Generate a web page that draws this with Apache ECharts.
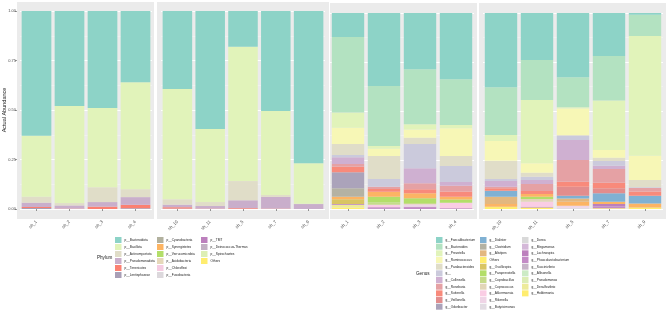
<!DOCTYPE html>
<html>
<head>
<meta charset="utf-8">
<title>Actual Abundance</title>
<script src="https://cdn.jsdelivr.net/npm/echarts@6.0.0/dist/echarts.min.js"></script>
<style>
  html, body { margin: 0; padding: 0; background: #ffffff; }
  #main { width: 669px; height: 313px; }
</style>
</head>
<body>
<div id="main"></div>
<script type="text/javascript">
// samples in the two facets (same samples in both plots)
var groupA = ['sh_1', 'sh_2', 'sh_3', 'sh_4'];
var groupB = ['sh_10', 'sh_11', 'sh_5', 'sh_7', 'sh_9'];
var yTicks = [0, 0.25, 0.5, 0.75, 1];

// ---- phylum level, 9 bars: groupA then groupB ----
var phylumNames = ['p__Bacteroidota', 'p__Bacillota', 'p__Actinomycetota', 'p__Pseudomonadota',
  'p__Tenericutes', 'p__Lentisphaerae', 'p__Cyanobacteria', 'p__Synergistetes', 'p__Verrucomicrobia',
  'p__Acidobacteria', 'p__Chloroflexi', 'p__Fusobacteria', 'p__TM7', 'p__Deinococcus-Thermus',
  'p__Spirochaetes', 'Others'];
var phylumColors = ['#8DD3C7', '#E1F3BA', '#E0DDC8', '#C9AECB', '#FB8072', '#A99FB6', '#B2B19E',
  '#FDB462', '#B3DE69', '#E6D8BA', '#F5CDE2', '#DCD8DC', '#BC80BD', '#C3B1C4', '#DDEFB4', '#FFED6F'];

var pBacteroidota   = [0.630, 0.480, 0.490, 0.360, 0.394, 0.596, 0.180, 0.505, 0.769];
var pBacillota      = [0.308, 0.490, 0.400, 0.540, 0.557, 0.369, 0.679, 0.424, 0.204];
var pActinomycetota = [0.030, 0.012, 0.075, 0.040, 0.027, 0.020, 0.097, 0.010, 0.002];
var pPseudomonadota = [0.022, 0.016, 0.023, 0.039, 0.013, 0.013, 0.040, 0.059, 0.025];
var pTenericutes    = [0.005, 0.002, 0.012, 0.017, 0.007, 0.002, 0.004, 0.002, 0];
var pLentisphaerae  = [0.005, 0, 0, 0.004, 0.002, 0, 0, 0, 0];
var pCyanobacteria  = [0, 0, 0, 0, 0, 0, 0, 0, 0];
var pSynergistetes  = [0, 0, 0, 0, 0, 0, 0, 0, 0];
var pVerrucomicrobia= [0, 0, 0, 0, 0, 0, 0, 0, 0];
var pAcidobacteria  = [0, 0, 0, 0, 0, 0, 0, 0, 0];
var pChloroflexi    = [0, 0, 0, 0, 0, 0, 0, 0, 0];
var pFusobacteria   = [0, 0, 0, 0, 0, 0, 0, 0, 0];
var pTM7            = [0, 0, 0, 0, 0, 0, 0, 0, 0];
var pDeinococcus    = [0, 0, 0, 0, 0, 0, 0, 0, 0];
var pSpirochaetes   = [0, 0, 0, 0, 0, 0, 0, 0, 0];
var pOthers         = [0, 0, 0, 0, 0, 0, 0, 0, 0];
var phylumValues = [pBacteroidota, pBacillota, pActinomycetota, pPseudomonadota, pTenericutes,
  pLentisphaerae, pCyanobacteria, pSynergistetes, pVerrucomicrobia, pAcidobacteria, pChloroflexi,
  pFusobacteria, pTM7, pDeinococcus, pSpirochaetes, pOthers];

// ---- genus level, 9 bars: groupA then groupB ----
var genusNames = ['g__Faecalibacterium', 'g__Bacteroides', 'g__Prevotella', 'g__Ruminococcus',
  'g__Parabacteroides', 'g__', 'g__Collinsella', 'g__Roseburia', 'g__Sutterella', 'g__Veillonella',
  'g__Odoribacter', 'g__Dialister', 'g__Clostridium', 'g__Alistipes', 'Others', 'g__Oscillospira',
  'g__Paraprevotella', 'g__Coprobacillus', 'g__Coprococcus', 'g__Akkermansia', 'g__Rikenella',
  'g__Butyricimonas', 'g__Dorea', 'g__Megamonas', 'g__Lachnospira', 'g__Phascolarctobacterium',
  'g__Succinivibrio', 'g__Allisonella', 'g__Pseudomonas', 'g__Desulfovibrio', 'g__Holdemania'];
var genusColors = ['#8DD3C7', '#B3E2C1', '#E1F3BA', '#F7F7B6', '#E0DDC8', '#CBCADC', '#CFB0D1',
  '#E5A1A4', '#F88A7B', '#E28D8D', '#ABA3BA', '#80B1D3', '#B4B2A3', '#E3B77F', '#FCB464', '#D9C563',
  '#B3DE69', '#C6DB8A', '#E2D6B8', '#FACDE4', '#EFD4E6', '#E2DCE3', '#D9D9D9', '#D4B8D8', '#BC80BD',
  '#C38AC6', '#C7B4C9', '#CCEBC5', '#DCEDB5', '#EDEB9A', '#FFED6F'];

var gFaecalibacterium = [0.123, 0.372, 0.287, 0.338, 0.379, 0.240, 0.328, 0.219, 0.009];
var gBacteroides      = [0.385, 0.307, 0.281, 0.233, 0.243, 0.204, 0.153, 0.228, 0.108];
var gPrevotella       = [0.077, 0.013, 0.026, 0.017, 0.031, 0.323, 0.006, 0.252, 0.611];
var gRuminococcus     = [0.083, 0.038, 0.042, 0.142, 0.101, 0.048, 0.135, 0.039, 0.124];
var gParabacteroides  = [0.056, 0.117, 0.032, 0.051, 0.093, 0.020, 0.004, 0.017, 0.037];
var gUnassigned       = [0.012, 0.039, 0.124, 0.081, 0.010, 0.017, 0.022, 0.024, 0.004];
var gCollinsella      = [0.034, 0, 0.077, 0.019, 0.029, 0.020, 0.102, 0.017, 0];
var gRoseburia        = [0.014, 0.012, 0.030, 0.030, 0.008, 0.036, 0.111, 0.070, 0.018];
var gSutterella       = [0.029, 0.014, 0.021, 0.026, 0.013, 0.015, 0.026, 0.028, 0.022];
var gVeillonella      = [0, 0, 0, 0, 0, 0, 0.046, 0.026, 0];
var gOdoribacter      = [0.081, 0, 0, 0, 0, 0, 0, 0, 0];
var gDialister        = [0, 0, 0, 0, 0.030, 0, 0.013, 0.043, 0.039];
var gClostridium      = [0.043, 0, 0, 0, 0, 0, 0, 0, 0];
var gAlistipes        = [0, 0, 0, 0, 0.037, 0, 0.017, 0, 0];
var gOthers           = [0.013, 0.025, 0.025, 0.014, 0.014, 0.014, 0.021, 0.011, 0.020];
var gOscillospira     = [0.024, 0, 0, 0, 0, 0, 0, 0, 0];
var gParaprevotella   = [0, 0.030, 0.025, 0.017, 0, 0.012, 0, 0, 0];
var gCoprobacillus    = [0, 0.011, 0.006, 0, 0, 0, 0, 0, 0];
var gCoprococcus      = [0, 0, 0, 0, 0, 0.014, 0, 0, 0];
var gAkkermansia      = [0, 0.013, 0.004, 0.028, 0, 0.025, 0, 0, 0];
var gRikenella        = [0, 0, 0.008, 0, 0, 0, 0.010, 0, 0];
var gButyricimonas    = [0, 0, 0, 0, 0, 0, 0.006, 0, 0];
var gDorea            = [0, 0, 0, 0, 0, 0, 0, 0, 0];
var gMegamonas        = [0, 0, 0, 0, 0, 0, 0, 0, 0];
var gLachnospira      = [0.004, 0.005, 0.006, 0.004, 0, 0.004, 0, 0.013, 0];
var gPhascolarcto     = [0, 0.004, 0.006, 0, 0, 0, 0, 0.009, 0];
var gSuccinivibrio    = [0, 0, 0, 0, 0, 0, 0, 0, 0];
var gAllisonella      = [0, 0, 0, 0, 0, 0, 0, 0, 0];
var gPseudomonas      = [0, 0, 0, 0, 0, 0, 0, 0, 0];
var gDesulfovibrio    = [0.014, 0, 0, 0, 0, 0, 0, 0, 0];
var gHoldemania       = [0.008, 0, 0, 0, 0.012, 0.008, 0, 0.004, 0.008];
var genusValues = [gFaecalibacterium, gBacteroides, gPrevotella, gRuminococcus, gParabacteroides,
  gUnassigned, gCollinsella, gRoseburia, gSutterella, gVeillonella, gOdoribacter, gDialister,
  gClostridium, gAlistipes, gOthers, gOscillospira, gParaprevotella, gCoprobacillus, gCoprococcus,
  gAkkermansia, gRikenella, gButyricimonas, gDorea, gMegamonas, gLachnospira, gPhascolarcto,
  gSuccinivibrio, gAllisonella, gPseudomonas, gDesulfovibrio, gHoldemania];

var FONT = 'Liberation Sans';
var myChart = echarts.init(document.getElementById('main'));

// one grid per facet panel
var grids = [
  { left: 20,  top: 11, width: 132, height: 198 },
  { left: 161, top: 11, width: 164, height: 198 },
  { left: 330, top: 13, width: 144, height: 196 },
  { left: 483, top: 13, width: 180, height: 196 }
];
grids.forEach(function (g) { g.outerBoundsMode = 'none'; });

var xAxes = [groupA, groupB, groupA, groupB].map(function (cats, i) {
  return {
    gridIndex: i, type: 'category', data: cats, offset: 10,
    axisLine: { show: false },
    axisTick: { show: true, alignWithLabel: true, length: 2, lineStyle: { color: '#333', width: 0.5 } },
    axisLabel: { rotate: 45, fontSize: 4.5, color: '#4D4D4D', margin: 2, fontFamily: FONT },
    splitLine: { show: false }
  };
});

var yAxes = [0, 1, 2, 3].map(function (i) {
  return {
    gridIndex: i, type: 'value', min: 0, max: 1, interval: 0.25,
    offset: i === 0 ? 3 : 0,
    name: i === 0 ? 'Actual Abundance' : '',
    nameLocation: 'middle', nameGap: 10, nameMoveOverlap: false,
    nameTextStyle: { fontSize: 5.5, color: '#1A1A1A', fontFamily: FONT },
    axisLine: { show: false },
    axisTick: { show: i === 0, length: 2, lineStyle: { color: '#333', width: 0.5 } },
    axisLabel: {
      show: i === 0, fontSize: 4, color: '#4D4D4D', margin: 1, fontFamily: FONT,
      formatter: function (v) { return yTicks.indexOf(v) >= 0 ? v.toFixed(2) : ''; }
    },
    splitLine: { show: true, lineStyle: { color: '#ffffff', width: 1 } },
    minorTick: { show: false, splitNumber: 2 },
    minorSplitLine: { show: true, lineStyle: { color: '#F6F6F6', width: 0.5 } }
  };
});

// ggplot stacks the first level on top, echarts stacks the first series at the bottom
var series = [];
function addStack(names, colors, values, gA, gB, key) {
  for (var i = names.length - 1; i >= 0; i--) {
    series.push({
      type: 'bar', name: names[i], xAxisIndex: gA, yAxisIndex: gA, stack: key + 'A',
      barWidth: '90%', itemStyle: { color: colors[i] }, data: values[i].slice(0, groupA.length)
    });
    series.push({
      type: 'bar', name: names[i], xAxisIndex: gB, yAxisIndex: gB, stack: key + 'B',
      barWidth: '90%', itemStyle: { color: colors[i] }, data: values[i].slice(groupA.length)
    });
  }
}
addStack(phylumNames, phylumColors, phylumValues, 0, 1, 'phylum');
addStack(genusNames, genusColors, genusValues, 2, 3, 'genus');

function legendCol(names, left, gap) {
  return {
    orient: 'vertical', left: left, top: 237, padding: 0,
    itemWidth: 6.5, itemHeight: 6, itemGap: gap, icon: 'rect',
    selectedMode: false,
    textStyle: { fontSize: 3.2, color: '#1A1A1A', fontFamily: FONT, padding: [0, 0, 0, -2] },
    data: names
  };
}
var legends = [
  legendCol(phylumNames.slice(0, 6), 115, 1),
  legendCol(phylumNames.slice(6, 12), 157, 1),
  legendCol(phylumNames.slice(12), 201, 1),
  legendCol(genusNames.slice(0, 11), 436, 0.67),
  legendCol(genusNames.slice(11, 22), 480, 0.67),
  legendCol(genusNames.slice(22), 522, 0.67)
];

// grey facet panels behind the grids
var panels = [[17, 2, 137, 217], [157, 2, 172, 217], [330, 3, 147, 216], [479, 3, 187, 216]];
var graphics = panels.map(function (p) {
  return { type: 'rect', z: -10, silent: true, shape: { x: p[0], y: p[1], width: p[2], height: p[3] },
           style: { fill: '#EBEBEB' } };
});
graphics.push({ type: 'text', left: 97, top: 255, silent: true,
  style: { text: 'Phylum', fontSize: 4.6, fill: '#1A1A1A', fontFamily: FONT } });
graphics.push({ type: 'text', left: 416, top: 271, silent: true,
  style: { text: 'Genus', fontSize: 4.6, fill: '#1A1A1A', fontFamily: FONT } });

var option = {
  animation: false,
  backgroundColor: '#ffffff',
  grid: grids,
  xAxis: xAxes,
  yAxis: yAxes,
  legend: legends,
  graphic: graphics,
  series: series
};
myChart.setOption(option);
</script>
</body>
</html>
